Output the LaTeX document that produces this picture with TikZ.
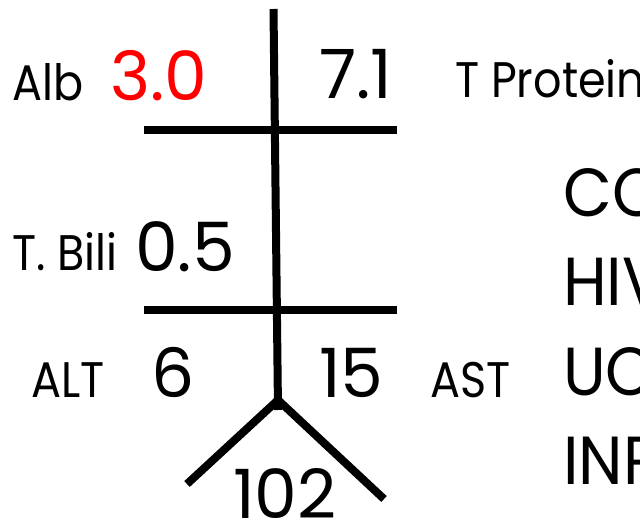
\documentclass[tikz,border=0pt]{standalone}
\usepackage{fontspec}
\setmainfont{Poppins}
\newfontfamily\narrowfont[FakeStretch=0.89]{Poppins}
\newfontfamily\listfont[FakeStretch=0.93]{Poppins}
\definecolor{valred}{RGB}{255,0,0}
\tikzset{
  label/.style={anchor=base west, inner sep=0pt, font=\narrowfont\fontsize{50}{50}\selectfont},
  value/.style={anchor=base west, inner sep=0pt, font=\fontsize{68}{68}\selectfont},
  entry/.style={anchor=base west, inner sep=0pt, font=\listfont\fontsize{68}{68}\selectfont},
  bar/.style={line width=8pt, line cap=butt},
}
\begin{document}
\begin{tikzpicture}[x=1pt, y=-1pt]
  \useasboundingbox (0,0) rectangle (640,519);
  \clip (0,0) rectangle (640,519);

  % skeleton of the fishbone
  \coordinate (top) at (273.5,9);
  \coordinate (bottom) at (278,410);
  \coordinate (apex) at (278,400);
  \coordinate (legL) at (187,484);
  \coordinate (legR) at (384,499);
  \coordinate (r1L) at (144,129.5);
  \coordinate (r1R) at (397,129.5);
  \coordinate (r2L) at (144,309.5);
  \coordinate (r2R) at (397,309.5);

  \draw[bar] (top) -- (bottom);
  \draw[bar] (r1L) -- (r1R);
  \draw[bar] (r2L) -- (r2R);
  \draw[bar, line join=miter] (legL) -- (apex) -- (legR);

  % upper row
  \node[label] (alb) at (12,100) {Alb};
  \node[value, text=valred] (albv) at (110,100) {3.0};
  \node[value] (tpv) at (319,99) {7.1};
  \node[label] (tp) at (455,98) {T Protein};

  % middle row
  \node[label] (tb) at (12,270) {T. Bili};
  \node[value] (tbv) at (135,271) {0.5};

  % lower row
  \node[label] (alt) at (31,397) {ALT};
  \node[value] (altv) at (151,397) {6};
  \node[value] (astv) at (319,397) {15};
  \node[label] (ast) at (430,397) {AST};
  \node[value] (plt) at (233,518) {102};

  % list on the right
  \node[entry] (l1) at (563,216) {CO};
  \node[entry] (l2) at (563,305) {HIV};
  \node[entry] (l3) at (563,395) {UC};
  \node[entry] (l4) at (563,484) {INR};
\end{tikzpicture}
\end{document}
